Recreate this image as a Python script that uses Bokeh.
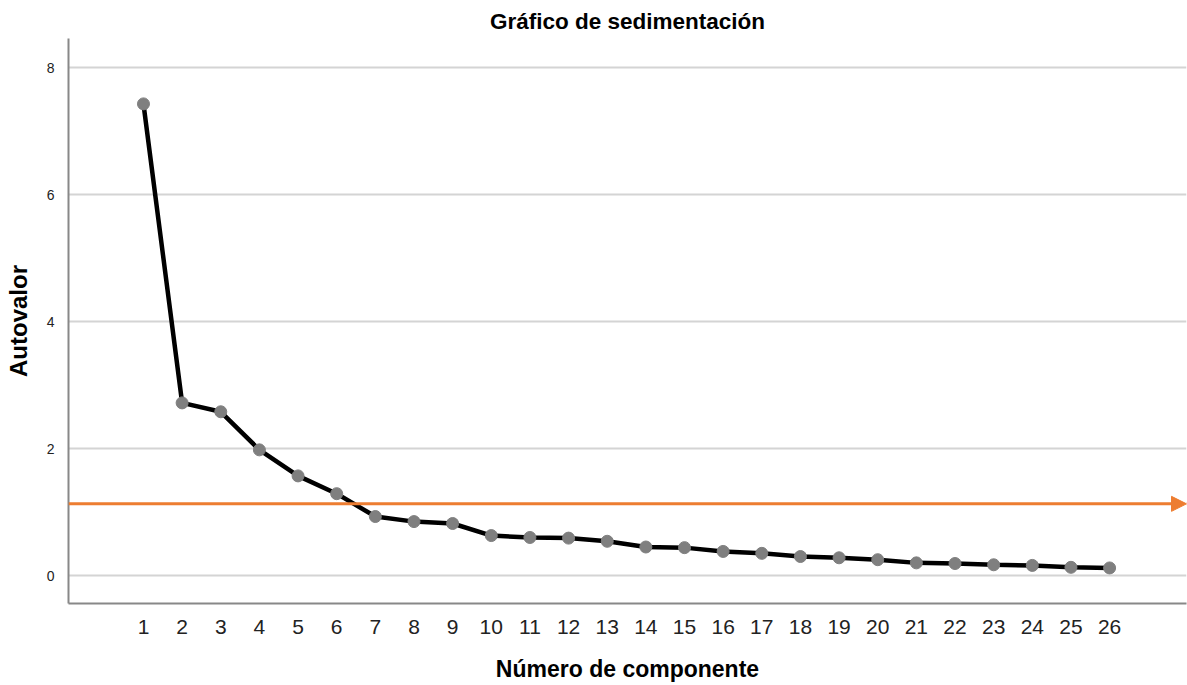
from bokeh.plotting import figure
from bokeh.models import Range1d, FixedTicker, Arrow, NormalHead, ColumnDataSource
from bokeh.embed import file_html
from bokeh.resources import INLINE

components = list(range(1, 27))
eigenvalues = [7.43, 2.72, 2.58, 1.98, 1.57, 1.29, 0.93, 0.85, 0.82, 0.63,
               0.60, 0.59, 0.54, 0.45, 0.44, 0.38, 0.35, 0.30, 0.28, 0.25,
               0.20, 0.19, 0.17, 0.16, 0.13, 0.12]
y_ticks = [0, 2, 4, 6, 8]
cutoff = 1.13

FONT = "Liberation Sans"
X0, X1 = -0.94, 27.99

p = figure(width=1187, height=685, output_backend="svg", toolbar_location=None,
           x_range=Range1d(X0, X1), y_range=Range1d(-0.44, 8.46),
           min_border_left=68, min_border_right=1, min_border_top=38, min_border_bottom=82,
           title="Gráfico de sedimentación")
p.outline_line_color = None
p.background_fill_color = "white"

p.title.align = "center"
p.title.text_font = FONT
p.title.text_font_size = "22.5px"
p.title.text_font_style = "bold"
p.title.text_color = "#000000"
p.title.standoff = 10

p.xgrid.grid_line_color = None
p.ygrid.grid_line_color = "#d4d4d4"
p.ygrid.grid_line_width = 2

p.xaxis.ticker = FixedTicker(ticks=components)
p.yaxis.ticker = FixedTicker(ticks=y_ticks)
for ax in (p.xaxis[0], p.yaxis[0]):
    ax.axis_line_color = "#888888"
    ax.axis_line_width = 2
    ax.major_tick_line_color = None
    ax.minor_tick_line_color = None
    ax.major_label_text_font = FONT
    ax.major_label_text_color = "#222222"
    ax.axis_label_text_font = FONT
    ax.axis_label_text_font_style = "bold"
    ax.axis_label_text_color = "#000000"

p.xaxis.axis_label = "Número de componente"
p.xaxis.axis_label_text_font_size = "23px"
p.xaxis.major_label_text_font_size = "21px"
p.xaxis.major_label_standoff = 10
p.xaxis.axis_label_standoff = 19

p.yaxis.axis_label = "Autovalor"
p.yaxis.axis_label_text_font_size = "24px"
p.yaxis.major_label_text_font_size = "14px"
p.yaxis.major_label_standoff = 8
p.yaxis.axis_label_standoff = 12

src = ColumnDataSource(dict(x=components, y=eigenvalues))
p.line("x", "y", source=src, line_color="black", line_width=4.5)
p.scatter("x", "y", source=src, size=12, fill_color="#7f7f7f", line_color="#7f7f7f")

p.add_layout(Arrow(end=NormalHead(size=15, fill_color="#ed7d31", line_color="#ed7d31"),
                   x_start=X0, y_start=cutoff, x_end=X1, y_end=cutoff,
                   line_color="#ed7d31", line_width=3))

open("out.html", "w").write(file_html(p, INLINE))
